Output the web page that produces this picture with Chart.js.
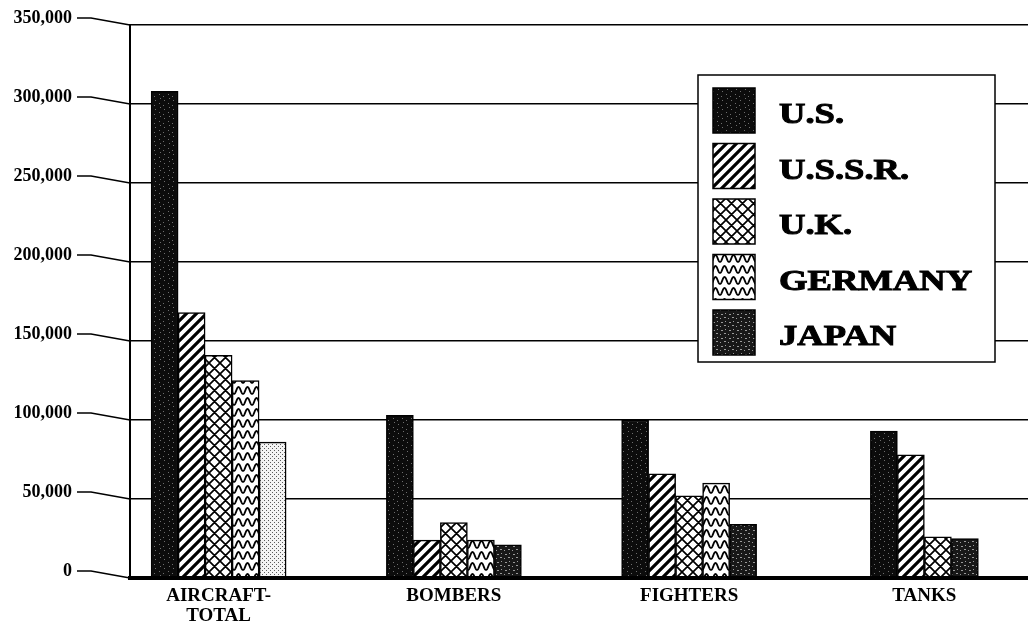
<!DOCTYPE html>
<html>
<head>
<meta charset="utf-8">
<title>Wartime production</title>
<script src="https://cdn.jsdelivr.net/npm/chart.js@4.4.1/dist/chart.umd.min.js"></script>
<style>
  html, body { margin: 0; padding: 0; background: #fff; overflow: hidden; }
  #wrap { width: 1028px; height: 624px; }
</style>
</head>
<body>
<div id="wrap"><canvas id="production" width="1028" height="624"></canvas></div>
<script>
'use strict';

var categories = [['AIRCRAFT-', 'TOTAL'], 'BOMBERS', 'FIGHTERS', 'TANKS'];
var countries = ['U.S.', 'U.S.S.R.', 'U.K.', 'GERMANY', 'JAPAN'];

var usValues = [308000, 103000, 100000, 93000];
var ussrValues = [168000, 24000, 66000, 78000];
var ukValues = [141000, 35000, 52000, 26000];
var germanyValues = [125000, 24000, 60000, null];   // no tank bar for Germany
var japanValues = [86000, 21000, 34000, 25000];

var yMin = 0;
var yMax = 350000;
var yStep = 50000;

var serif = '"Liberation Serif", "Times New Roman", serif';

function makePattern(w, h, paint) {
  var c = document.createElement('canvas');
  c.width = w;
  c.height = h;
  var g = c.getContext('2d');
  paint(g, w, h);
  return g.createPattern(c, 'repeat');
}

// black with a few grey specks
var usFill = makePattern(9, 9, function (g, w, h) {
  g.fillStyle = '#0c0c0c';
  g.fillRect(0, 0, w, h);
  g.fillStyle = '#6e6e6e';
  g.fillRect(2, 1, 1, 1);
  g.fillRect(6, 4, 1, 1);
  g.fillRect(1, 6, 1, 1);
  g.fillRect(7, 8, 1, 1);
});

// "/" stripes
var ussrFill = makePattern(10, 10, function (g, w, h) {
  g.fillStyle = '#fff';
  g.fillRect(0, 0, w, h);
  g.strokeStyle = '#000';
  g.lineWidth = 3.2;
  g.beginPath();
  for (var k = -1; k <= 1; k++) {
    g.moveTo(k * w - 2, h + 2);
    g.lineTo(k * w + w + 2, -2);
  }
  g.stroke();
});

// diamond cross hatch
var ukFill = makePattern(11, 11, function (g, w, h) {
  g.fillStyle = '#fff';
  g.fillRect(0, 0, w, h);
  g.strokeStyle = '#000';
  g.lineWidth = 1.7;
  g.beginPath();
  for (var k = -1; k <= 1; k++) {
    g.moveTo(k * w, 0);
    g.lineTo(k * w + w, h);
    g.moveTo(k * w + w, 0);
    g.lineTo(k * w, h);
  }
  g.stroke();
});

// wavy rows
var germanyFill = makePattern(9, 11, function (g, w, h) {
  g.fillStyle = '#fff';
  g.fillRect(0, 0, w, h);
  g.strokeStyle = '#000';
  g.lineWidth = 1.8;
  for (var row = -1; row <= 1; row++) {
    g.beginPath();
    for (var x = 0; x <= w; x += 0.5) {
      var y = row * h + h / 2 + 3.6 * Math.cos(2 * Math.PI * x / w);
      if (x === 0) g.moveTo(x, y); else g.lineTo(x, y);
    }
    g.stroke();
  }
});

// dark with light flecks
var japanFill = makePattern(8, 8, function (g, w, h) {
  g.fillStyle = '#181818';
  g.fillRect(0, 0, w, h);
  g.fillStyle = '#9a9a9a';
  g.fillRect(1, 2, 2, 1);
  g.fillRect(5, 1, 1, 1);
  g.fillRect(4, 5, 2, 1);
  g.fillRect(0, 6, 1, 1);
});

// light stipple used on the aircraft total bar
var japanLightFill = makePattern(4, 4, function (g, w, h) {
  g.fillStyle = '#f4f4f4';
  g.fillRect(0, 0, w, h);
  g.fillStyle = '#5a5a5a';
  g.fillRect(0, 0, 1, 1);
  g.fillRect(2, 2, 1, 1);
});

var datasets = [
  { label: countries[0], data: usValues, backgroundColor: usFill, legendFill: usFill },
  { label: countries[1], data: ussrValues, backgroundColor: ussrFill, legendFill: ussrFill },
  { label: countries[2], data: ukValues, backgroundColor: ukFill, legendFill: ukFill },
  { label: countries[3], data: germanyValues, backgroundColor: germanyFill, legendFill: germanyFill },
  {
    label: countries[4],
    data: japanValues,
    backgroundColor: japanValues.map(function (v, i) { return i === 0 ? japanLightFill : japanFill; }),
    legendFill: japanFill
  }
];

// the groups in the original are spread a little wider than the plot box,
// so stretch the category range past the axis on both sides
var widenCategories = {
  id: 'widenCategories',
  afterLayout: function (chart) {
    var x = chart.scales.x;
    var start = x.left - 29;
    var end = x.right + 14;
    x._startPixel = start;
    x._endPixel = end;
    x._length = end - start;
  }
};

// little kinked lines joining each value label to the axis
var slantTicks = {
  id: 'slantTicks',
  afterDraw: function (chart) {
    var scale = chart.scales.y;
    var ctx = chart.ctx;
    var left = chart.chartArea.left;
    ctx.save();
    ctx.strokeStyle = '#000';
    ctx.lineWidth = 1.5;
    scale.ticks.forEach(function (t) {
      var py = scale.getPixelForValue(t.value);
      ctx.beginPath();
      ctx.moveTo(left - 53, py - 7);
      ctx.lineTo(left - 39, py - 7);
      ctx.lineTo(left, py);
      ctx.stroke();
    });
    ctx.restore();
  }
};

// boxed legend sitting inside the plot
var boxLegend = {
  id: 'boxLegend',
  afterDraw: function (chart) {
    var ctx = chart.ctx;
    var area = chart.chartArea;
    var left = area.right - 330;
    var top = area.top + 50;
    ctx.save();
    ctx.fillStyle = '#fff';
    ctx.fillRect(left, top, 297, 287);
    ctx.strokeStyle = '#000';
    ctx.lineWidth = 1.5;
    ctx.strokeRect(left, top, 297, 287);
    chart.data.datasets.forEach(function (ds, i) {
      var sy = top + 13 + i * 55.5;
      ctx.fillStyle = ds.legendFill;
      ctx.fillRect(left + 15, sy, 42, 45);
      ctx.strokeRect(left + 15, sy, 42, 45);
      ctx.save();
      ctx.translate(left + 81, sy + 35);
      ctx.scale(1.22, 1);
      ctx.fillStyle = '#000';
      ctx.strokeStyle = '#000';
      ctx.lineWidth = 1;
      ctx.font = 'bold 30px ' + serif;
      ctx.textBaseline = 'alphabetic';
      ctx.fillText(ds.label, 0, 0);
      ctx.strokeText(ds.label, 0, 0);
      ctx.restore();
    });
    ctx.restore();
  }
};

var ctx = document.getElementById('production').getContext('2d');

new Chart(ctx, {
  type: 'bar',
  data: { labels: categories, datasets: datasets },
  options: {
    responsive: false,
    animation: false,
    layout: { padding: { top: 25, left: 0, right: 0, bottom: 0 } },
    datasets: {
      bar: {
        borderColor: '#000',
        borderWidth: 1.5,
        barThickness: 27,
        skipNull: true
      }
    },
    plugins: {
      legend: { display: false },
      tooltip: { enabled: false }
    },
    scales: {
      x: {
        grid: { display: false, drawTicks: false },
        border: { display: true, color: '#000', width: 4 },
        ticks: {
          color: '#000',
          font: { family: serif, size: 19, weight: 'bold', lineHeight: 1.05 },
          padding: 8,
          maxRotation: 0,
          autoSkip: false
        },
        afterFit: function (scale) { scale.height = 46; }
      },
      y: {
        min: yMin,
        max: yMax,
        grid: {
          color: '#000',
          lineWidth: function (c) { return c.tick && c.tick.value === 0 ? 4 : 1.5; },
          drawTicks: true,
          tickLength: 58,
          tickColor: 'rgba(0,0,0,0)'
        },
        border: { color: '#000', width: 2 },
        ticks: {
          stepSize: yStep,
          color: '#000',
          font: { family: serif, size: 18, weight: 'bold' },
          padding: 0,
          labelOffset: -7,
          callback: function (v) { return v.toLocaleString('en-US'); }
        },
        afterFit: function (scale) { scale.width = 130; }
      }
    }
  },
  plugins: [widenCategories, slantTicks, boxLegend]
});
</script>
</body>
</html>
